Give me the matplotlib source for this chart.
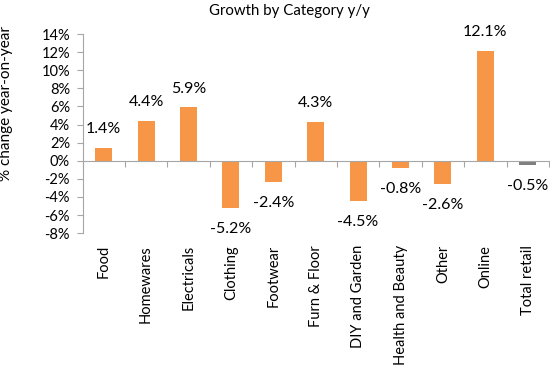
import matplotlib
matplotlib.use("Agg")
import matplotlib.pyplot as plt
import numpy as np

categories = ["Food", "Homewares", "Electricals", "Clothing", "Footwear", "Furn & Floor",
              "DIY and Garden", "Health and Beauty", "Other", "Online", "Total retail"]
values = [1.4, 4.4, 5.9, -5.2, -2.4, 4.3, -4.5, -0.8, -2.6, 12.1, -0.5]
colors = ["#F79646"] * 10 + ["#7F7F7F"]
yticks = list(range(-8, 15, 2))

plt.rcParams['font.family'] = ['Lato', 'DejaVu Sans']

fig = plt.figure(figsize=(5.5, 3.66), dpi=100)
ax = fig.add_axes([0.150, 0.363, 0.848, 0.544])

x = np.arange(len(categories))
ax.bar(x, values, width=0.4, color=colors, zorder=2)
ax.set_xlim(-0.5, len(categories) - 0.5)
ax.set_ylim(-8, 14)
ax.set_yticks(yticks)
ax.set_yticklabels([f"{t}%" for t in yticks], fontsize=10.5)

for s in ["top", "right"]:
    ax.spines[s].set_visible(False)
ax.spines["left"].set_color("#A6A6A6")
ax.spines["bottom"].set_position(("data", 0))
ax.spines["bottom"].set_color("#A6A6A6")
ax.tick_params(axis="y", length=4, color="#A6A6A6", pad=5)
ax.set_xticks(np.arange(-0.5, len(categories), 1.0))
ax.set_xticklabels([])
ax.tick_params(axis="x", length=4, color="#A6A6A6", direction="out")

trans = matplotlib.transforms.blended_transform_factory(ax.transData, ax.transAxes)
for xi, c in zip(x, categories):
    ax.text(xi, -0.06, c, rotation=90, ha="center", va="top", fontsize=10.5, transform=trans)

for xi, v in zip(x, values):
    if v >= 0:
        ax.annotate(f"{v:.1f}%", (xi, v), xytext=(0, 8.5), textcoords="offset points",
                    ha="center", va="bottom", fontsize=11.5)
    else:
        ax.annotate(f"{v:.1f}%", (xi, v), xytext=(0, -10), textcoords="offset points",
                    ha="center", va="top", fontsize=11.5)

ax.set_ylabel("% change year-on-year", fontsize=11)
ax.yaxis.set_label_coords(-0.148, 0.65)
fig.text(289 / 550, 1 - 11 / 366, "Growth by Category y/y", ha="center", va="center", fontsize=10.8)

fig.savefig("out.png", dpi=100)
